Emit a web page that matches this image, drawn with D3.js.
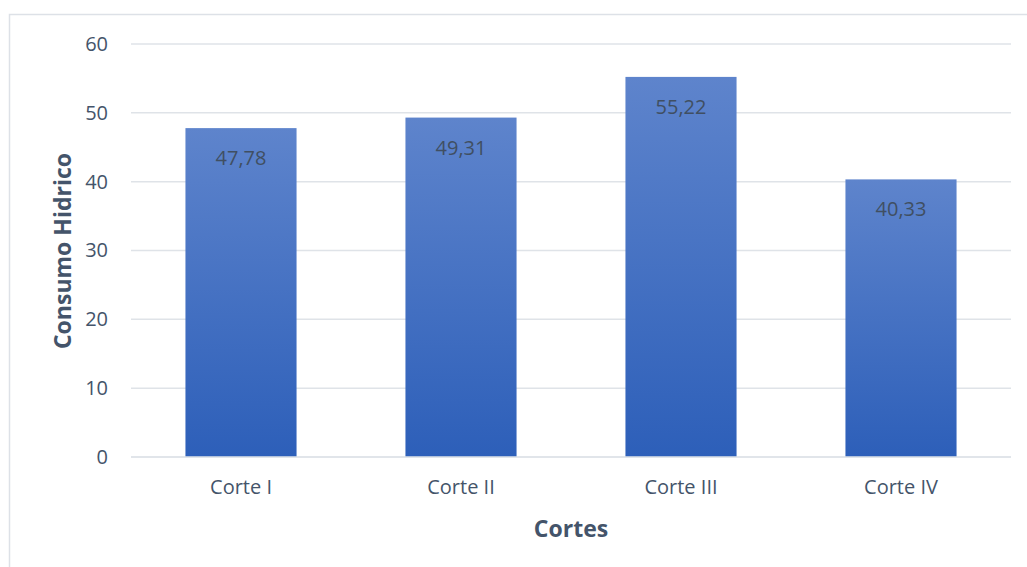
<!DOCTYPE html>
<html><head><meta charset="utf-8">
<script src="https://cdn.jsdelivr.net/npm/d3@7"></script>
<style>body{margin:0;background:#fff}svg{display:block}text{font-family:"Open Sans",sans-serif}</style>
</head><body>
<svg id="c" width="1027" height="567"></svg>
<script>
const categories = ["Corte I","Corte II","Corte III","Corte IV"];
const values = [47.78, 49.31, 55.22, 40.33];
const labels = ["47,78","49,31","55,22","40,33"];
const yTicks = [0,10,20,30,40,50,60];
const yTitle = "Consumo Hidrico";
const xTitle = "Cortes";
const FONT = "'Open Sans',sans-serif";

const svg = d3.select("#c");
const defs = svg.append("defs");
const g = defs.append("linearGradient").attr("id","bg").attr("x1",0).attr("y1",0).attr("x2",0).attr("y2",1);
g.append("stop").attr("offset","0%").attr("stop-color","#5e84cc");
g.append("stop").attr("offset","100%").attr("stop-color","#2d5fb9");

svg.append("rect").attr("x",9.5).attr("y",14.5).attr("width",1030).attr("height",600)
  .attr("fill","none").attr("stroke","#dde1e7").attr("stroke-width",1.5);

const x = d3.scaleBand().domain(categories).range([131,1011]).paddingInner(0.495).paddingOuter(0.2475);
const y = d3.scaleLinear().domain([0,60]).range([457,44]);

svg.append("g").selectAll("line").data(yTicks).join("line")
  .attr("x1",131).attr("x2",1011).attr("y1",d=>y(d)).attr("y2",d=>y(d))
  .attr("stroke","#dfe3e8").attr("stroke-width",1.5);

const ya = svg.append("g").attr("transform","translate(131,0)")
  .call(d3.axisLeft(y).tickValues(yTicks).tickSize(0).tickPadding(23));
ya.select(".domain").remove();
ya.selectAll("text").attr("fill","#44546a").style("font-size","20px").style("font-family",FONT);

svg.append("g").selectAll("rect").data(values).join("rect")
  .attr("x",(d,i)=>x(categories[i])).attr("width",x.bandwidth())
  .attr("y",d=>y(d)).attr("height",d=>y(0)-y(d)).attr("fill","url(#bg)");

svg.append("line").attr("x1",131).attr("x2",1011).attr("y1",y(0)).attr("y2",y(0))
  .attr("stroke","#dfe3e8").attr("stroke-width",1.5);

svg.append("g").selectAll("text").data(values).join("text")
  .attr("x",(d,i)=>x(categories[i])+x.bandwidth()/2).attr("y",d=>y(d)+37)
  .attr("text-anchor","middle").attr("fill","#404f62").style("font-size","20px")
  .text((d,i)=>labels[i]);

const xa = svg.append("g").attr("transform",`translate(0,${y(0)})`)
  .call(d3.axisBottom(x).tickSize(0).tickPadding(23));
xa.select(".domain").remove();
xa.selectAll("text").attr("fill","#44546a").style("font-size","20px").style("font-family",FONT);

svg.append("text").attr("transform","translate(71,251) rotate(-90)").attr("text-anchor","middle")
  .attr("fill","#44546a").style("font-size","23px").style("font-weight","bold").text(yTitle);
svg.append("text").attr("x",571).attr("y",537).attr("text-anchor","middle")
  .attr("fill","#44546a").style("font-size","23px").style("font-weight","bold").text(xTitle);
</script>
</body></html>
